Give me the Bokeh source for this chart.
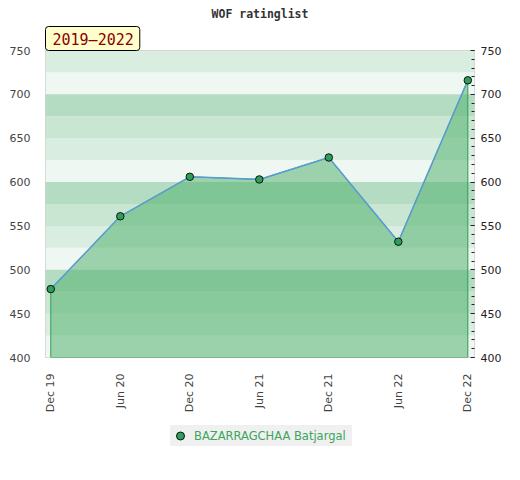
import math
from bokeh.plotting import figure
from bokeh.layouts import column
from bokeh.models import (Range1d, FixedTicker, LinearAxis, BoxAnnotation, Title,
                          Legend, LegendItem)
from bokeh.embed import file_html
from bokeh.resources import INLINE

# ---- data ----
periods = ["Dec 19", "Jun 20", "Dec 20", "Jun 21", "Dec 21", "Jun 22", "Dec 22"]
ratings = [478, 561, 606, 603, 628, 532, 716]
player = "BAZARRAGCHAA Batjargal"
title_text = "WOF ratinglist"
badge_text = "2019\u20132022"
y_min, y_max = 400, 750
major_ticks = list(range(400, 751, 50))
minor_ticks = list(range(400, 751, 10))
band_step = 25
band_colors = ["#eff7f2", "#d9ede0", "#c8e6d2", "#b3dcc2"]

xs = list(range(len(periods)))

MARKER = dict(marker="circle", fill_color="#2d9f5a", line_color="#111111", line_width=1)

p = figure(width=504, height=415, output_backend="svg", toolbar_location=None,
           x_range=Range1d(-0.076, len(periods) - 1 + 0.096),
           y_range=Range1d(y_min, y_max),
           min_border_left=45, min_border_right=28, min_border_top=50, min_border_bottom=55,
           y_axis_location=None)
p.background_fill_color = "#ffffff"
p.border_fill_color = "#ffffff"
p.outline_line_color = "#d0d0d0"
p.outline_line_width = 1

# background bands
lvl = y_min
i = 0
while lvl < y_max:
    p.add_layout(BoxAnnotation(bottom=lvl, top=lvl + band_step,
                               fill_color=band_colors[i % 4], fill_alpha=1.0,
                               line_color=None, level="underlay"))
    lvl += band_step
    i += 1

p.xgrid.visible = False
p.ygrid.ticker = FixedTicker(ticks=[500, 600, 700])
p.ygrid.grid_line_color = "#d4d4d4"
p.ygrid.grid_line_width = 1

# area
px = [xs[0]] + xs + [xs[-1]]
py = [y_min] + ratings + [y_min]
p.patch(px, py, fill_color="#56b371", fill_alpha=0.55, line_color="#2e9e50", line_width=1)
p.line(xs, ratings, line_color="#5b9bd5", line_width=1.5)
p.scatter(xs, ratings, size=7.5, **MARKER)

# x axis
xa = p.xaxis[0]
xa.ticker = FixedTicker(ticks=xs)
xa.major_label_overrides = {x: lab for x, lab in zip(xs, periods)}
xa.major_label_orientation = math.pi / 2
xa.major_label_text_font = "DejaVu Sans"
xa.major_label_text_font_size = "11px"
xa.major_label_text_color = "#444444"
xa.axis_line_color = None
xa.major_tick_line_color = None
xa.minor_tick_line_color = None
xa.major_label_standoff = 10

# left axis
la = LinearAxis(ticker=FixedTicker(ticks=major_ticks))
la.axis_line_color = None
la.major_tick_line_color = None
la.minor_tick_line_color = None
la.major_label_text_font = "DejaVu Sans"
la.major_label_text_font_size = "11px"
la.major_label_text_color = "#444444"
la.major_label_standoff = 9
p.add_layout(la, "left")

# right axis
ra = LinearAxis(ticker=FixedTicker(ticks=major_ticks, minor_ticks=minor_ticks))
ra.axis_line_color = None
ra.major_tick_in = 4
ra.major_tick_out = 0
ra.minor_tick_in = 3
ra.minor_tick_out = 0
ra.major_tick_line_color = "#222222"
ra.minor_tick_line_color = "#222222"
ra.major_label_text_font = "DejaVu Sans"
ra.major_label_text_font_size = "11px"
ra.major_label_text_color = "#222222"
ra.major_label_standoff = 6
p.add_layout(ra, "right")

# title
p.title.text = title_text
p.title.align = "center"
p.title.text_font = "DejaVu Sans Mono"
p.title.text_font_style = "bold"
p.title.text_font_size = "11.5px"
p.title.text_color = "#333333"
p.title.standoff = 7

# badge (period)
badge = Title(text=badge_text, align="left", offset=0, standoff=0,
              text_font="DejaVu Sans Mono", text_font_size="15px", text_font_style="normal",
              text_color="#8b0000",
              background_fill_color="#ffffcc", background_fill_alpha=1.0,
              border_line_color="#000000", border_line_width=1,
              padding=dict(left=7, right=6, top=4, bottom=2), border_radius=3)
p.add_layout(badge, "above")

# legend strip (separate small figure below the chart)
lg = figure(width=504, height=49, output_backend="svg", toolbar_location=None,
            x_range=Range1d(0, 1), y_range=Range1d(0, 1),
            x_axis_type=None, y_axis_type=None,
            min_border=0, min_border_left=0, min_border_right=0,
            min_border_top=0, min_border_bottom=0)
lg.grid.visible = False
lg.outline_line_color = None
lg.background_fill_color = "#ffffff"
lg.border_fill_color = "#ffffff"
# proxy renderer for the legend glyph (its point lies outside this strip's ranges)
lpts = lg.scatter([xs[0]], [ratings[0]], size=7, **MARKER)
leg = Legend(items=[LegendItem(label=player, renderers=[lpts])],
             location=(125, 18), orientation="horizontal",
             background_fill_color="#f0f0f0", background_fill_alpha=1.0,
             border_line_color=None, label_text_color="#3ba55d",
             label_text_font="DejaVu Sans", label_text_font_size="11.5px",
             glyph_width=20, glyph_height=21, label_height=21, label_width=158,
             label_standoff=4, padding=0, margin=0)
lg.add_layout(leg, "center")

layout = column(p, lg, spacing=0)
open("out.html", "w").write(file_html(layout, INLINE))
